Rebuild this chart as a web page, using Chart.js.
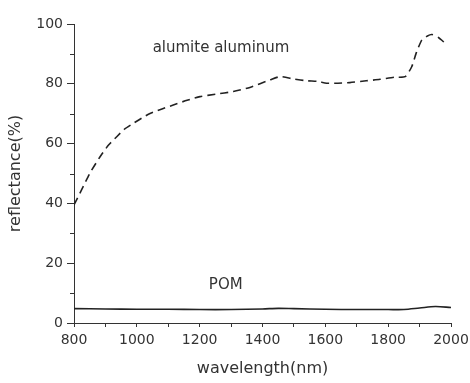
<!DOCTYPE html>
<html lang="en">
<head>
<meta charset="UTF-8">
<title>reflectance</title>
<script src="https://cdn.jsdelivr.net/npm/chart.js@4"></script>
<style>
  body { margin: 0; background: #fff; }
  .wrap { width: 470px; height: 383px; position: relative; }
</style>
</head>
<body>
<div class="wrap"><canvas id="c" width="470" height="383"></canvas></div>
<script>
// alumite aluminum (dashed)
const alumiteNm = [800, 824, 850, 883, 910, 936, 960, 989, 1015, 1042, 1080, 1116, 1160, 1201, 1250, 1307, 1360, 1424, 1456, 1500, 1541, 1575, 1604, 1640, 1678, 1730, 1774, 1820, 1854, 1875, 1890, 1907, 1925, 1939, 1960, 1976, 1990];
const alumiteVal = [39.5, 44.5, 50, 55.6, 59.5, 62.3, 64.8, 66.8, 68.5, 70.1, 71.6, 72.9, 74.5, 75.7, 76.5, 77.4, 78.8, 81.3, 82.4, 81.6, 81, 80.8, 80.2, 80.2, 80.4, 81, 81.5, 82.2, 82.4, 85.7, 90.5, 94.6, 96, 96.5, 95.5, 94.1, 93];

// POM (solid)
const pomNm = [800, 900, 1000, 1100, 1200, 1300, 1400, 1450, 1500, 1600, 1700, 1800, 1850, 1900, 1950, 2000];
const pomVal = [4.8, 4.7, 4.6, 4.6, 4.5, 4.5, 4.7, 4.9, 4.8, 4.6, 4.5, 4.5, 4.5, 5.0, 5.5, 5.2];

const xTicks = [800, 1000, 1200, 1400, 1600, 1800, 2000];
const yTicks = [0, 20, 40, 60, 80, 100];

const labels = [
  { text: 'alumite aluminum', x: 1268, y: 92 },
  { text: 'POM', x: 1283, y: 12.7 }
];

const FONT = 'DejaVu Sans';
const INK = '#333';

const pts = (xs, ys) => xs.map((x, i) => ({ x: x, y: ys[i] }));

// minor ticks + text labels
const extras = {
  id: 'extras',
  afterDraw(chart) {
    const ctx = chart.ctx;
    const xs = chart.scales.x, ys = chart.scales.y;
    ctx.save();
    ctx.strokeStyle = INK;
    ctx.lineWidth = 1;
    for (let v = 10; v < 100; v += 20) {
      const py = Math.round(ys.getPixelForValue(v)) + 0.5;
      ctx.beginPath();
      ctx.moveTo(xs.left - 4, py);
      ctx.lineTo(xs.left, py);
      ctx.stroke();
    }
    ctx.fillStyle = INK;
    ctx.font = '15px "' + FONT + '"';
    ctx.textAlign = 'center';
    ctx.textBaseline = 'middle';
    labels.forEach(l => {
      ctx.fillText(l.text, xs.getPixelForValue(l.x), ys.getPixelForValue(l.y));
    });
    ctx.restore();
  }
};

new Chart(document.getElementById('c'), {
  type: 'line',
  data: {
    datasets: [
      {
        data: pts(alumiteNm, alumiteVal),
        borderColor: '#222',
        borderWidth: 1.6,
        borderDash: [8, 5],
        pointRadius: 0,
        tension: 0.2,
        fill: false
      },
      {
        data: pts(pomNm, pomVal),
        borderColor: '#222',
        borderWidth: 1.6,
        pointRadius: 0,
        tension: 0.3,
        fill: false
      }
    ]
  },
  options: {
    responsive: false,
    animation: false,
    layout: { padding: { top: 24, right: 19, left: 0, bottom: 0 } },
    plugins: { legend: { display: false }, tooltip: { enabled: false } },
    scales: {
      x: {
        type: 'linear',
        min: 800, max: 2000,
        afterFit: s => { s.height = 60; s.paddingLeft = 0; s.paddingRight = 0; },
        afterBuildTicks: s => {
          const t = [];
          for (let v = 800; v <= 2000; v += 100) t.push({ value: v });
          s.ticks = t;
        },
        ticks: {
          autoSkip: false,
          maxRotation: 0,
          padding: 5,
          color: INK,
          font: { family: FONT, size: 14 },
          callback: v => xTicks.includes(v) ? String(v) : ''
        },
        grid: { drawOnChartArea: false, tickLength: 4, color: INK },
        border: { color: INK, width: 1 },
        title: {
          display: true, text: 'wavelength(nm)', color: INK,
          font: { family: FONT, size: 16 },
          padding: { top: 0, bottom: 5 }
        }
      },
      y: {
        min: 0, max: 100,
        afterFit: s => { s.width = 74; s.paddingTop = 0; s.paddingBottom = 0; },
        afterBuildTicks: s => { s.ticks = yTicks.map(v => ({ value: v })); },
        ticks: {
          padding: 4,
          color: INK,
          font: { family: FONT, size: 14 }
        },
        grid: { drawOnChartArea: false, tickLength: 7, color: INK },
        border: { color: INK, width: 1 },
        title: {
          display: true, text: 'reflectance(%)', color: INK,
          font: { family: FONT, size: 16 },
          padding: { top: 6, bottom: 0 }
        }
      }
    }
  },
  plugins: [extras]
});
</script>
</body>
</html>
